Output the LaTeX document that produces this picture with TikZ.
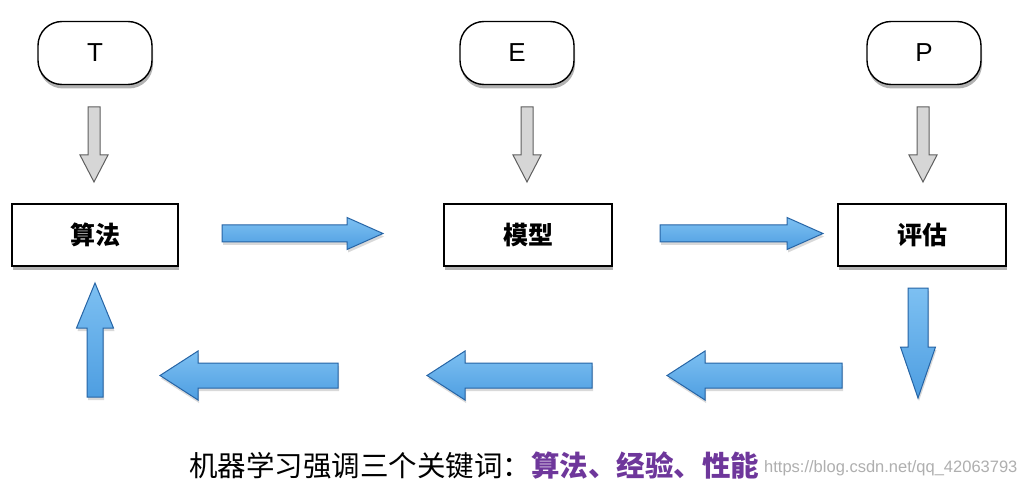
\documentclass[tikz,border=0pt]{standalone}
\usepackage{fontspec}
\setmainfont{Liberation Sans}
\newfontfamily\cjk{Noto Sans CJK SC}
\usetikzlibrary{calc,shadows}
\definecolor{bluetop}{RGB}{125,192,242}
\definecolor{bluebot}{RGB}{78,158,225}
\definecolor{blueline}{RGB}{38,100,165}
\definecolor{grayfill}{RGB}{214,214,214}
\definecolor{grayline}{RGB}{95,95,95}
\definecolor{kwpurple}{RGB}{110,55,155}
\definecolor{wmgray}{RGB}{175,175,175}
% style, tail, tip, half shaft, half head, head length
\newcommand\fatarrow[6]{%
  \path[#1] ($(#2)!#4!90:(#3)$) -- ($(#3)!#6!(#2)!#4!90:(#3)$)
    -- ($(#3)!#6!(#2)!#5!90:(#3)$) -- (#3)
    -- ($(#3)!#6!(#2)!#5!-90:(#3)$) -- ($(#3)!#6!(#2)!#4!-90:(#3)$)
    -- ($(#2)!#4!-90:(#3)$) -- cycle;}
\tikzset{
  capsule/.style={draw=black, line width=1.4pt, fill=white, rounded corners=24pt,
    minimum width=114pt, minimum height=63pt, inner sep=0pt,
    font=\fontsize{26}{26}\selectfont,
    drop shadow={shadow xshift=1pt, shadow yshift=-4pt, opacity=0.3, fill=black}},
  procbox/.style={draw=black, line width=1.4pt, fill=white,
    minimum height=62pt, inner sep=0pt,
    font=\cjk\bfseries\fontsize{25}{25}\selectfont,
    drop shadow={shadow xshift=1pt, shadow yshift=-4pt, opacity=0.3, fill=black}},
  grayarr/.style={draw=grayline, line width=1pt, fill=grayfill, line join=miter},
  bluearr/.style={draw=blueline, line width=1pt, top color=bluetop, bottom color=bluebot,
    line join=miter,
    drop shadow={shadow xshift=1pt, shadow yshift=-3pt, opacity=0.15, fill=black}},
}
\begin{document}
\begin{tikzpicture}[x=1pt, y=-1pt]
\useasboundingbox (0,0) rectangle (1022,494);
\fill[white] (0,0) rectangle (1022,494);

\node[capsule] (T) at (95,53) {T};
\node[capsule] (E) at (517,53) {E};
\node[capsule] (P) at (924,53) {P};

\node[procbox, minimum width=166pt] (alg) at (95,235) {算法};
\node[procbox, minimum width=168pt] (mod) at (528,235) {模型};
\node[procbox, minimum width=168pt] (eva) at (922,235) {评估};

% gray input arrows
\coordinate (t1) at (94,107);  \coordinate (t2) at (94,182);
\coordinate (e1) at (527,107); \coordinate (e2) at (527,182);
\coordinate (p1) at (923,107); \coordinate (p2) at (923,182);
\fatarrow{grayarr}{t1}{t2}{6pt}{14pt}{27pt}
\fatarrow{grayarr}{e1}{e2}{6pt}{14pt}{27pt}
\fatarrow{grayarr}{p1}{p2}{6pt}{14pt}{27pt}

% blue flow arrows
\coordinate (r1a) at (222,233.5); \coordinate (r1b) at (383,233.5);
\coordinate (r2a) at (660,233.5); \coordinate (r2b) at (823,233.5);
\fatarrow{bluearr}{r1a}{r1b}{8.5pt}{16pt}{36pt}
\fatarrow{bluearr}{r2a}{r2b}{8.5pt}{16pt}{36pt}

\coordinate (da) at (918,288); \coordinate (db) at (918,398);
\fatarrow{bluearr}{da}{db}{10pt}{17.5pt}{51pt}

\coordinate (l1a) at (842,375.5); \coordinate (l1b) at (667,375.5);
\coordinate (l2a) at (592,375.5); \coordinate (l2b) at (427,375.5);
\coordinate (l3a) at (338,375.5); \coordinate (l3b) at (160,375.5);
\fatarrow{bluearr}{l1a}{l1b}{12.5pt}{24.5pt}{38pt}
\fatarrow{bluearr}{l2a}{l2b}{12.5pt}{24.5pt}{38pt}
\fatarrow{bluearr}{l3a}{l3b}{12.5pt}{24.5pt}{38pt}

\coordinate (ua) at (95,397); \coordinate (ub) at (95,283);
\fatarrow{bluearr}{ua}{ub}{8pt}{18.5pt}{45pt}

% caption
\node[anchor=west, inner sep=0pt, font=\cjk\fontsize{28.5}{28.5}\selectfont] (cap) at (189,465)
  {机器学习强调三个关键词：\textcolor{kwpurple}{\bfseries 算法、经验、性能}};
\node[anchor=west, inner sep=0pt, text=wmgray, font=\fontsize{16.5}{16.5}\selectfont] (wm) at (764,468)
  {https://blog.csdn.net/qq\_42063793};
\end{tikzpicture}
\end{document}
